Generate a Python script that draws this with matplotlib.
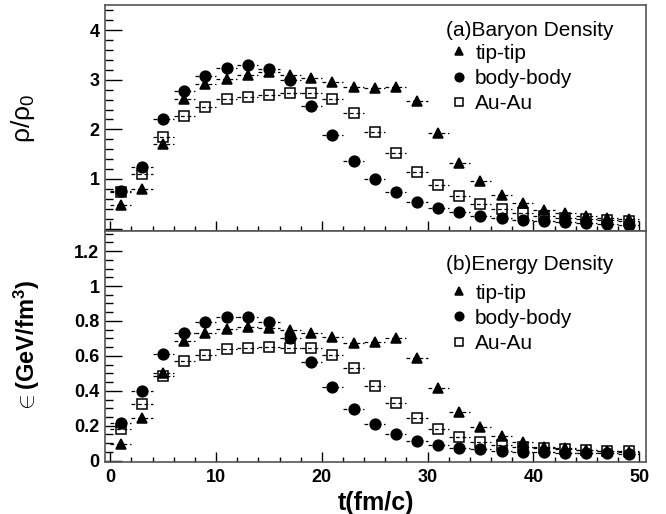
import matplotlib
matplotlib.use("Agg")
import matplotlib.pyplot as plt
from matplotlib.ticker import MultipleLocator, FuncFormatter

plt.rcParams['font.family'] = ['Liberation Sans', 'DejaVu Sans']
plt.rcParams['mathtext.fontset'] = 'custom'
plt.rcParams['mathtext.rm'] = 'Liberation Sans'
plt.rcParams['mathtext.it'] = 'Liberation Sans:italic'
plt.rcParams['mathtext.bf'] = 'Liberation Sans:bold'

t = [1, 3, 5, 7, 9, 11, 13, 15, 17, 19, 21, 23, 25, 27, 29, 31, 33, 35, 37, 39, 41, 43, 45, 47, 49]
t_err = 1.0

# (a) Baryon density rho/rho0
rho_tip = [0.48, 0.79, 1.70, 2.61, 2.91, 3.01, 3.10, 3.15, 3.10, 3.04, 2.96, 2.85, 2.84, 2.85, 2.58,
           1.92, 1.33, 0.95, 0.68, 0.51, 0.38, 0.31, 0.26, 0.21, 0.19]
rho_body = [0.75, 1.25, 2.21, 2.78, 3.08, 3.23, 3.29, 3.22, 3.00, 2.47, 1.88, 1.37, 1.00, 0.73, 0.54,
            0.42, 0.33, 0.26, 0.21, 0.18, 0.15, 0.14, 0.11, 0.095, 0.08]
rho_auau = [0.73, 1.10, 1.85, 2.27, 2.46, 2.61, 2.66, 2.70, 2.74, 2.73, 2.61, 2.33, 1.94, 1.52, 1.15,
            0.87, 0.65, 0.50, 0.39, 0.31, 0.26, 0.22, 0.19, 0.18, 0.16]

# (b) Energy density (GeV/fm^3)
eps_tip = [0.094, 0.243, 0.504, 0.686, 0.730, 0.754, 0.767, 0.758, 0.749, 0.730, 0.707, 0.672, 0.682,
           0.700, 0.587, 0.418, 0.281, 0.195, 0.141, 0.105, 0.080, 0.071, 0.061, 0.057, 0.052]
eps_body = [0.214, 0.400, 0.609, 0.733, 0.796, 0.821, 0.821, 0.796, 0.700, 0.567, 0.420, 0.296, 0.210,
            0.153, 0.115, 0.090, 0.075, 0.065, 0.057, 0.052, 0.048, 0.046, 0.042, 0.042, 0.038]
eps_auau = [0.180, 0.325, 0.487, 0.571, 0.605, 0.640, 0.644, 0.649, 0.644, 0.644, 0.605, 0.529, 0.430,
            0.329, 0.243, 0.180, 0.134, 0.109, 0.090, 0.080, 0.071, 0.065, 0.061, 0.057, 0.055]

labels = ['tip-tip', 'body-body', 'Au-Au']
markers = ['^', 'o', 's']
msizes = [7.5, 7.7, 7.2]
faces = ['black', 'black', 'none']

fig = plt.figure(figsize=(6.66, 5.14), dpi=100)
W, H = 666.0, 514.0
left, right = 105 / W, 646 / W
ax1 = fig.add_axes([left, 1 - 231 / H, right - left, (231 - 5) / H])
ax2 = fig.add_axes([left, 1 - 462 / H, right - left, (462 - 231) / H])


def draw(ax, series):
    handles = []
    for y, m, ms, fc, lab in zip(series, markers, msizes, faces, labels):
        eb = ax.errorbar(t, y, xerr=t_err, fmt=m, ms=ms, mfc=fc, mec='black', mew=1.1,
                         ecolor='black', elinewidth=0.9, capsize=0, label=lab)
        for lc in eb[2]:
            lc.set_linestyle((0, (3.0, 2.2)))
        handles.append(eb[0])
    return handles


h1 = draw(ax1, [rho_tip, rho_body, rho_auau])
h2 = draw(ax2, [eps_tip, eps_body, eps_auau])

for ax in (ax1, ax2):
    ax.set_xlim(-0.5, 50.65)
    ax.xaxis.set_major_locator(MultipleLocator(10))
    ax.xaxis.set_minor_locator(MultipleLocator(2))
    ax.tick_params(axis='x', which='major', direction='in', length=7, width=1, pad=5)
    ax.tick_params(axis='x', which='minor', direction='in', length=3.8, width=1)
    ax.tick_params(axis='y', which='major', direction='in', length=12, width=1, pad=4)
    ax.tick_params(axis='y', which='minor', direction='in', length=6, width=1)
    ax.tick_params(top=False, right=False, which='both', labelsize=13)
    for sp in ax.spines.values():
        sp.set_color('#555555')
        sp.set_linewidth(1.2)

# top panel
ax1.set_ylim(-0.05, 4.51)
ax1.yaxis.set_major_locator(MultipleLocator(1))
ax1.yaxis.set_minor_locator(MultipleLocator(0.2))
ax1.yaxis.set_major_formatter(FuncFormatter(lambda v, p: '' if abs(v) < 1e-9 else '%g' % v))
ax1.tick_params(axis='x', labelbottom=False)
for lab in ax1.get_yticklabels():
    lab.set_fontweight('bold')
ax1.set_ylabel(r'$\mathregular{\rho/\rho_0}$', fontsize=19)
ax1.yaxis.set_label_coords(-0.126, 0.5)

# bottom panel
ax2.set_ylim(-0.0075, 1.315)
ax2.yaxis.set_major_locator(MultipleLocator(0.2))
ax2.yaxis.set_minor_locator(MultipleLocator(0.05))
ax2.yaxis.set_major_formatter(FuncFormatter(lambda v, p: '%g' % round(v, 3)))
for lab in ax2.get_xticklabels() + ax2.get_yticklabels():
    lab.set_fontweight('bold')
ax2.set_ylabel(r'$\in$(GeV/fm$^{\mathbf{3}}$)', fontsize=17, fontweight='bold')
ax2.yaxis.set_label_coords(-0.117, 0.5)
ax2.set_xlabel('t(fm/c)', fontsize=18, fontweight='bold')
ax2.xaxis.set_label_coords(0.5, -0.125)

for ax, h, title, ytop, sep in ((ax1, h1, '(a)Baryon Density', 0.931, 3),
                                (ax2, h2, '(b)Energy Density', 0.896, 7)):
    leg = ax.legend(h, labels, title=title, loc='upper left', bbox_to_anchor=((446 - 105) / 541, ytop),
                    frameon=False, fontsize=15, title_fontsize=15, alignment='left',
                    borderpad=0, borderaxespad=0, handlelength=1.25, handletextpad=0.15,
                    labelspacing=0.29, markerscale=0.8)
    leg._legend_box.sep = sep

fig.savefig('out.png', dpi=100)
